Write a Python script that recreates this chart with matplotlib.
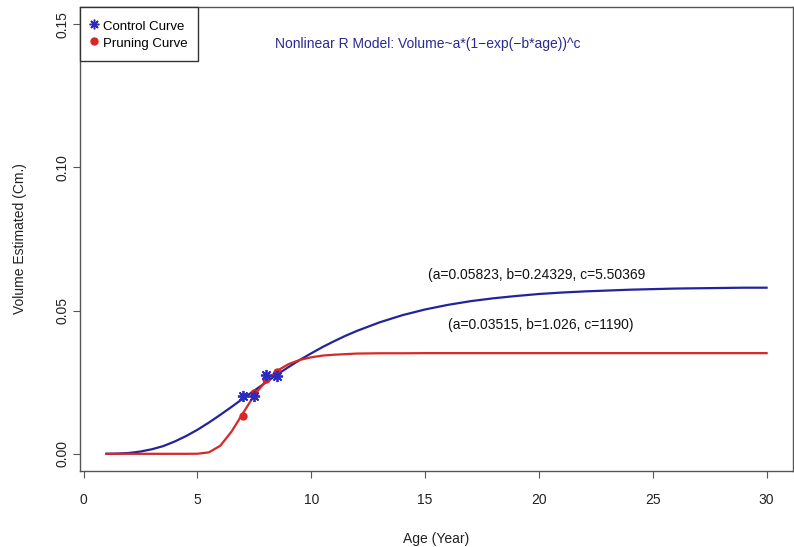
import matplotlib.pyplot as plt
from matplotlib.lines import Line2D

plt.rcParams['font.family'] = ['Liberation Sans', 'DejaVu Sans']

fit_age = [1, 1.5, 2, 2.5, 3, 3.5, 4, 4.5, 5, 5.5, 6, 6.5, 7, 7.5, 8, 8.5,
           9, 9.5, 10, 10.5, 11, 11.5, 12, 13, 14, 15, 16, 17, 18, 19, 20,
           21, 22, 23, 24, 25, 26, 27, 28, 29, 30]
control_fit = [0.00001, 0.00009, 0.0003, 0.0008, 0.0016, 0.0027, 0.0043, 0.0062,
               0.0084, 0.0109, 0.0136, 0.0164, 0.0193, 0.0221, 0.0249, 0.0277,
               0.0303, 0.0328, 0.0351, 0.0373, 0.0393, 0.0412, 0.0429, 0.0459,
               0.0484, 0.0504, 0.0520, 0.0533, 0.0543, 0.0551, 0.0558, 0.0563,
               0.0567, 0.0570, 0.0573, 0.0575, 0.0577, 0.0578, 0.0579, 0.0580,
               0.0580]
pruning_fit = [0.0, 0.0, 0.0, 0.0, 0.0, 0.0, 0.0, 0.0,
               0.00003, 0.0005, 0.0028, 0.0078, 0.0142, 0.0205, 0.0254, 0.0290,
               0.0313, 0.0328, 0.0337, 0.0343, 0.0346, 0.0348, 0.0350, 0.0351,
               0.0351, 0.03515, 0.03515, 0.03515, 0.03515, 0.03515, 0.03515, 0.03515,
               0.03515, 0.03515, 0.03515, 0.03515, 0.03515, 0.03515, 0.03515, 0.03515,
               0.03515]

# observed points
control_age = [7, 7.5, 8, 8.5]
control_vol = [0.0201, 0.0203, 0.0274, 0.0273]
pruning_age = [7, 7.5, 8, 8.5]
pruning_vol = [0.0131, 0.0213, 0.0262, 0.0285]

xticks = [0, 5, 10, 15, 20, 25, 30]
yticks = [0.00, 0.05, 0.10, 0.15]

blue = '#23239c'
star_blue = '#2a2ac0'
red = '#d62828'
fs = 10

fig = plt.figure(figsize=(7.94, 5.47), dpi=100)
ax = fig.add_axes([80/794, 76/547, 713/794, 464/547])

ax.plot(fit_age, control_fit, color=blue, lw=1.6, zorder=2)
ax.plot(fit_age, pruning_fit, color=red, lw=1.6, zorder=2)
ax.plot(pruning_age, pruning_vol, 'o', color=red, ms=5, zorder=3)
ax.plot(control_age, control_vol, ls='none', marker=(8, 2, 0), color=star_blue,
        ms=8, mew=1.3, zorder=4)

ax.set_xlim(-0.16, 31.16)
ax.set_ylim(-0.006, 0.156)
ax.set_xticks(xticks)
ax.set_yticks(yticks)
ax.set_yticklabels(['0.00', '0.05', '0.10', '0.15'])

for s in ax.spines.values():
    s.set_color('#555555')
    s.set_linewidth(1)
ax.tick_params(direction='out', length=5, width=0.8, color='#555555',
               labelcolor='#222222', labelsize=fs)
ax.tick_params(axis='x', pad=11)
ax.tick_params(axis='y', pad=2.5)
for t in ax.get_yticklabels():
    t.set_rotation(90)
    t.set_va('center')

ax.set_xlabel('Age (Year)', fontsize=fs, color='#222222')
ax.set_ylabel('Volume Estimated (Cm.)', fontsize=fs, color='#222222')
ax.xaxis.set_label_coords(0.5, -0.132)
ax.yaxis.set_label_coords(-0.074, 0.5)

ax.text(15.1, 0.143, 'Nonlinear R Model: Volume~a*(1\u2212exp(\u2212b*age))^c',
        ha='center', va='center', fontsize=fs, color='#2a2a90')
ax.text(19.9, 0.0626, '(a=0.05823, b=0.24329, c=5.50369',
        ha='center', va='center', fontsize=fs, color='#111111')
ax.text(20.1, 0.0451, '(a=0.03515, b=1.026, c=1190)',
        ha='center', va='center', fontsize=fs, color='#111111')

# legend in the top-left corner, like R's legend("topleft")
handles = [
    Line2D([], [], ls='none', marker=(8, 2, 0), color=star_blue, ms=7, mew=1.1),
    Line2D([], [], ls='none', marker='o', color=red, ms=5),
]
leg = ax.legend(handles, ['Control Curve', 'Pruning Curve'], loc='upper left',
                borderaxespad=0, fancybox=False, framealpha=1, fontsize=9.5,
                handlelength=0.5, handleheight=1.45, handletextpad=0.45,
                borderpad=0.8, labelspacing=0.12)
leg.get_frame().set_edgecolor('#333333')
leg.get_frame().set_linewidth(1)

fig.savefig('out.png', dpi=100)
